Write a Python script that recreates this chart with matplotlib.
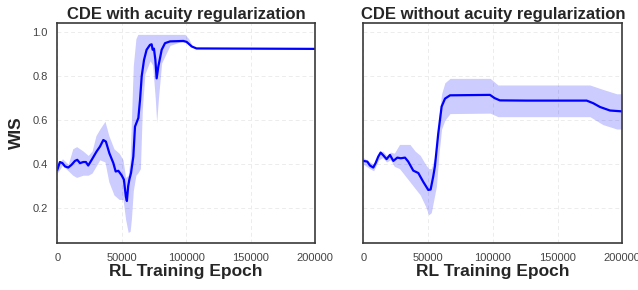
import matplotlib
matplotlib.use('Agg')
import matplotlib.pyplot as plt
from matplotlib.ticker import FixedLocator, FormatStrFormatter

# ---- left panel: CDE with acuity regularization ----
left_x = [0, 2000, 4000, 6000, 8500, 11000, 13700, 15500, 17600, 20200, 22200,
          24000, 26700, 30500, 33100, 35700, 37700, 40400, 43500, 45300, 47400,
          49900, 51700, 53200, 54000, 55000, 55900, 57200, 59000, 60300, 62900,
          64200, 65500, 67300, 69300, 71900, 73200, 74000, 75000, 76100, 77100,
          78400, 81000, 83600, 87500, 97800, 100300, 104300, 108000, 200000]
left_mean = [0.374, 0.41, 0.405, 0.39, 0.385, 0.397, 0.415, 0.42, 0.405, 0.41,
             0.41, 0.394, 0.42, 0.458, 0.48, 0.51, 0.503, 0.45, 0.405, 0.367,
             0.37, 0.35, 0.33, 0.253, 0.233, 0.30, 0.33, 0.36, 0.435, 0.571,
             0.61, 0.692, 0.80, 0.874, 0.92, 0.942, 0.945, 0.92, 0.925, 0.874,
             0.79, 0.844, 0.92, 0.95, 0.958, 0.96, 0.956, 0.935, 0.926, 0.924]
left_band_x = [0, 4000, 8500, 12000, 15000, 20000, 24000, 27000, 30000, 33000,
               37000, 40000, 44000, 48000, 51000, 53000, 55000, 56500, 57500,
               59000, 61000, 62500, 64500, 66000, 68000, 72000, 74000, 76000,
               77100, 78500, 81000, 87500, 95000, 99000, 102000, 105000, 108000,
               200000]
left_lo = [0.36, 0.395, 0.37, 0.35, 0.34, 0.35, 0.35, 0.36, 0.39, 0.42,
           0.41, 0.32, 0.26, 0.24, 0.24, 0.15, 0.09, 0.095, 0.15,
           0.28, 0.35, 0.36, 0.38, 0.65, 0.81, 0.87, 0.85, 0.70,
           0.59, 0.70, 0.86, 0.94, 0.955, 0.955, 0.945, 0.932, 0.925, 0.924]
left_hi = [0.39, 0.425, 0.40, 0.47, 0.48, 0.46, 0.44, 0.46, 0.53, 0.56,
           0.595, 0.53, 0.47, 0.45, 0.42, 0.34, 0.35, 0.42, 0.60,
           0.85, 0.97, 0.99, 0.99, 0.99, 0.99, 0.99, 0.99, 0.99,
           0.99, 0.99, 0.99, 0.99, 0.99, 0.99, 0.97, 0.935, 0.926, 0.924]

# ---- right panel: CDE without acuity regularization ----
right_x = [0, 3100, 5150, 7700, 9500, 11600, 13400, 15500, 18000, 20600, 23200,
           26300, 29000, 32200, 34700, 38600, 42500, 46300, 50200, 52000, 54000,
           55300, 57900, 60500, 63100, 67000, 97800, 101500, 105500, 126000,
           172500, 177600, 182800, 190500, 200000]
right_mean = [0.415, 0.412, 0.394, 0.385, 0.405, 0.435, 0.453, 0.44, 0.423,
              0.442, 0.415, 0.43, 0.427, 0.43, 0.412, 0.371, 0.36, 0.32, 0.283,
              0.285, 0.344, 0.39, 0.54, 0.662, 0.698, 0.713, 0.715, 0.70,
              0.69, 0.689, 0.689, 0.677, 0.66, 0.644, 0.64]
right_band_x = [0, 5000, 8000, 12000, 15000, 18000, 21000, 24000, 28000, 32000,
                36000, 40000, 44000, 48000, 50500, 52500, 54500, 56500, 58500,
                60500, 63000, 67000, 98000, 104000, 175000, 185000, 195700, 200000]
right_lo = [0.40, 0.38, 0.37, 0.42, 0.43, 0.41, 0.42, 0.39, 0.38, 0.35,
            0.32, 0.29, 0.26, 0.21, 0.17, 0.18, 0.24, 0.30, 0.45,
            0.56, 0.60, 0.63, 0.632, 0.616, 0.616, 0.58, 0.56, 0.56]
right_hi = [0.43, 0.41, 0.40, 0.45, 0.46, 0.44, 0.455, 0.45, 0.49, 0.49,
            0.49, 0.46, 0.44, 0.40, 0.38, 0.38, 0.42, 0.45, 0.62,
            0.72, 0.77, 0.79, 0.79, 0.76, 0.76, 0.74, 0.72, 0.72]

titles = ['CDE with acuity regularization', 'CDE without acuity regularization']
x_ticks = [0, 50000, 100000, 150000, 200000]
y_ticks = [0.2, 0.4, 0.6, 0.8, 1.0]

plt.rcParams['font.family'] = ['Liberation Sans', 'DejaVu Sans']

fig = plt.figure(figsize=(6.38, 2.9), dpi=100)
ax1 = fig.add_axes([0.0898, 0.162, 0.404, 0.759])
ax2 = fig.add_axes([0.5694, 0.162, 0.406, 0.759], sharey=ax1)

panels = [
    (ax1, left_x, left_mean, left_band_x, left_lo, left_hi),
    (ax2, right_x, right_mean, right_band_x, right_lo, right_hi),
]

for i, (ax, x, m, bx, lo, hi) in enumerate(panels):
    ax.fill_between(bx, lo, hi, color='#0000ff', alpha=0.2, linewidth=0)
    ax.plot(x, m, color='#0000ff', linewidth=1.6)
    ax.set_xlim(0, 200000)
    ax.set_ylim(0.042, 1.042)
    ax.xaxis.set_major_locator(FixedLocator(x_ticks))
    ax.yaxis.set_major_locator(FixedLocator(y_ticks))
    ax.yaxis.set_major_formatter(FormatStrFormatter('%.1f'))
    ax.grid(True, linestyle=(0, (4, 3)), color='#ececec', linewidth=0.7)
    ax.set_axisbelow(True)
    for s in ax.spines.values():
        s.set_color('#3a3a3a')
        s.set_linewidth(1.2)
    ax.tick_params(axis='both', length=0, labelsize=8, colors='#444444', pad=7)
    ax.set_title(titles[i], fontsize=12, fontweight='bold', color='#262626', pad=3)
    ax.set_xlabel('RL Training Epoch', fontsize=12.5, fontweight='bold',
                  color='#262626', labelpad=1)

ax1.set_ylabel('WIS', fontsize=12.5, fontweight='bold', color='#262626', labelpad=6)
ax2.tick_params(axis='y', labelleft=False)

fig.savefig('out.png', dpi=100)
